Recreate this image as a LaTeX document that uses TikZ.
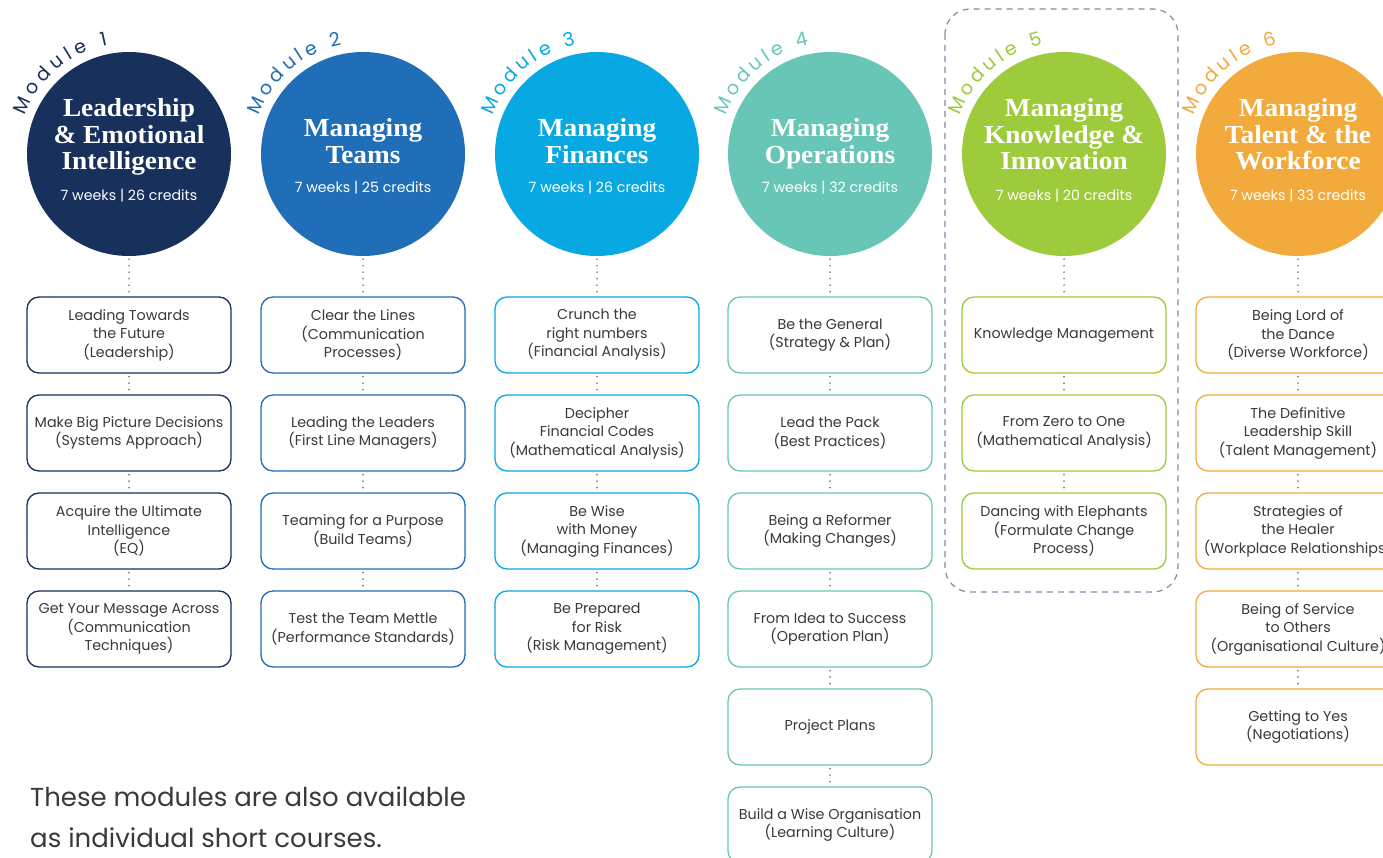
\documentclass[tikz,border=0pt]{standalone}
\usepackage{fontspec}
\setmainfont{Poppins}
\newfontfamily\titlefont[FakeStretch=1.05]{Liberation Serif}
\usetikzlibrary{decorations.text}
\definecolor{mA}{HTML}{17305C}
\definecolor{mB}{HTML}{1F6EB7}
\definecolor{mC}{HTML}{08A8E2}
\definecolor{mD}{HTML}{68C6B7}
\definecolor{mE}{HTML}{9DCB3B}
\definecolor{mF}{HTML}{F3AA3C}
\definecolor{textgray}{HTML}{3A3A3A}
\definecolor{dotgray}{HTML}{808080}
\definecolor{framegray}{HTML}{7F8CA6}
\tikzset{
  modcircle/.style={circle, minimum size=204pt, inner sep=0pt, draw=none},
  titletext/.style={text=white, font=\titlefont\bfseries\fontsize{26}{26.5}\selectfont, align=center, inner sep=0pt, text height=18pt, text depth=0pt},
  credtext/.style={text=white, font=\fontsize{14.2}{16}\selectfont, inner sep=0pt},
  topic/.style={draw, rounded corners=12pt, minimum width=204pt, minimum height=76pt, line width=1.3pt, align=center, font=\fontsize{14.3}{18.5}\selectfont, text=textgray, fill=white, inner sep=0pt},
  dotlink/.style={draw=dotgray, line width=1.9pt, line cap=round, dash pattern=on 0pt off 6.5pt, shorten <=3pt, shorten >=3pt},
  modlabel/.style 2 args={decorate, decoration={text along path, text={|\fontsize{19}{19}\selectfont|#1}, text align={fit to path}, text color=#2}}
}
\begin{document}
\begin{tikzpicture}[x=1pt,y=1pt]
\useasboundingbox (0,0) rectangle (1383,-858);
\fill[white] (0,0) rectangle (1383,-858);

% frame around module 5
\draw[framegray, line width=1.2pt, dash pattern=on 6pt off 5pt, rounded corners=25pt] (945,-9) rectangle (1178,-592);

% circles
\node[modcircle, fill=mA] (m1) at (129,-154) {};
\node[modcircle, fill=mB] (m2) at (363,-154) {};
\node[modcircle, fill=mC] (m3) at (597,-154) {};
\node[modcircle, fill=mD] (m4) at (830,-154) {};
\node[modcircle, fill=mE] (m5) at (1064,-154) {};
\node[modcircle, fill=mF] (m6) at (1298,-154) {};

% module labels
\path[modlabel={Module 1}{mA}] ([shift={(160:111)}]m1.center) arc[start angle=160, end angle=101, radius=111];
\path[modlabel={Module 2}{mB}] ([shift={(160:111)}]m2.center) arc[start angle=160, end angle=101, radius=111];
\path[modlabel={Module 3}{mC}] ([shift={(160:111)}]m3.center) arc[start angle=160, end angle=101, radius=111];
\path[modlabel={Module 4}{mD}] ([shift={(160:111)}]m4.center) arc[start angle=160, end angle=101, radius=111];
\path[modlabel={Module 5}{mE}] ([shift={(160:111)}]m5.center) arc[start angle=160, end angle=101, radius=111];
\path[modlabel={Module 6}{mF}] ([shift={(160:111)}]m6.center) arc[start angle=160, end angle=101, radius=111];

% titles
\node[titletext] (t1) at (129,-161) {Leadership\\\& Emotional\\Intelligence};
\node[credtext] (c1) at (129,-196) {7 weeks | 26 credits};
\node[titletext] (t2) at (363,-154.5) {Managing\\Teams};
\node[credtext] (c2) at (363,-188) {7 weeks | 25 credits};
\node[titletext] (t3) at (597,-154.5) {Managing\\Finances};
\node[credtext] (c3) at (597,-188) {7 weeks | 26 credits};
\node[titletext] (t4) at (830,-154.5) {Managing\\Operations};
\node[credtext] (c4) at (830,-188) {7 weeks | 32 credits};
\node[titletext] (t5) at (1064,-161) {Managing\\Knowledge \&\\Innovation};
\node[credtext] (c5) at (1064,-196) {7 weeks | 20 credits};
\node[titletext] (t6) at (1298,-161) {Managing\\Talent \& the\\Workforce};
\node[credtext] (c6) at (1298,-196) {7 weeks | 33 credits};

% column 1
\node[topic, draw=mA] (a1) at (129,-335) {Leading Towards\\the Future\\(Leadership)};
\node[topic, draw=mA] (a2) at (129,-433) {Make Big Picture Decisions\\(Systems Approach)};
\node[topic, draw=mA] (a3) at (129,-531) {Acquire the Ultimate\\Intelligence\\(EQ)};
\node[topic, draw=mA] (a4) at (129,-629) {Get Your Message Across\\(Communication\\Techniques)};
% column 2
\node[topic, draw=mB] (b1) at (363,-335) {Clear the Lines\\(Communication\\Processes)};
\node[topic, draw=mB] (b2) at (363,-433) {Leading the Leaders\\(First Line Managers)};
\node[topic, draw=mB] (b3) at (363,-531) {Teaming for a Purpose\\(Build Teams)};
\node[topic, draw=mB] (b4) at (363,-629) {Test the Team Mettle\\(Performance Standards)};
% column 3
\node[topic, draw=mC] (d1) at (597,-335) {Crunch the\\right numbers\\(Financial Analysis)};
\node[topic, draw=mC] (d2) at (597,-433) {Decipher\\Financial Codes\\(Mathematical Analysis)};
\node[topic, draw=mC] (d3) at (597,-531) {Be Wise\\with Money\\(Managing Finances)};
\node[topic, draw=mC] (d4) at (597,-629) {Be Prepared\\for Risk\\(Risk Management)};
% column 4
\node[topic, draw=mD] (e1) at (830,-335) {Be the General\\(Strategy \& Plan)};
\node[topic, draw=mD] (e2) at (830,-433) {Lead the Pack\\(Best Practices)};
\node[topic, draw=mD] (e3) at (830,-531) {Being a Reformer\\(Making Changes)};
\node[topic, draw=mD] (e4) at (830,-629) {From Idea to Success\\(Operation Plan)};
\node[topic, draw=mD] (e5) at (830,-727) {Project Plans};
\node[topic, draw=mD] (e6) at (830,-825) {Build a Wise Organisation\\(Learning Culture)};
% column 5
\node[topic, draw=mE] (f1) at (1064,-335) {Knowledge Management};
\node[topic, draw=mE] (f2) at (1064,-433) {From Zero to One\\(Mathematical Analysis)};
\node[topic, draw=mE] (f3) at (1064,-531) {Dancing with Elephants\\(Formulate Change\\Process)};
% column 6
\node[topic, draw=mF] (g1) at (1298,-335) {Being Lord of\\the Dance\\(Diverse Workforce)};
\node[topic, draw=mF] (g2) at (1298,-433) {The Definitive\\Leadership Skill\\(Talent Management)};
\node[topic, draw=mF] (g3) at (1298,-531) {Strategies of\\the Healer\\(Workplace Relationships)};
\node[topic, draw=mF] (g4) at (1298,-629) {Being of Service\\to Others\\(Organisational Culture)};
\node[topic, draw=mF] (g5) at (1298,-727) {Getting to Yes\\(Negotiations)};

% dotted links
\draw[dotlink] (m1.south) -- (a1.north);
\draw[dotlink] (a1.south) -- (a2.north);
\draw[dotlink] (a2.south) -- (a3.north);
\draw[dotlink] (a3.south) -- (a4.north);
\draw[dotlink] (m2.south) -- (b1.north);
\draw[dotlink] (b1.south) -- (b2.north);
\draw[dotlink] (b2.south) -- (b3.north);
\draw[dotlink] (b3.south) -- (b4.north);
\draw[dotlink] (m3.south) -- (d1.north);
\draw[dotlink] (d1.south) -- (d2.north);
\draw[dotlink] (d2.south) -- (d3.north);
\draw[dotlink] (d3.south) -- (d4.north);
\draw[dotlink] (m4.south) -- (e1.north);
\draw[dotlink] (e1.south) -- (e2.north);
\draw[dotlink] (e2.south) -- (e3.north);
\draw[dotlink] (e3.south) -- (e4.north);
\draw[dotlink] (e4.south) -- (e5.north);
\draw[dotlink] (e5.south) -- (e6.north);
\draw[dotlink] (m5.south) -- (f1.north);
\draw[dotlink] (f1.south) -- (f2.north);
\draw[dotlink] (f2.south) -- (f3.north);
\draw[dotlink] (m6.south) -- (g1.north);
\draw[dotlink] (g1.south) -- (g2.north);
\draw[dotlink] (g2.south) -- (g3.north);
\draw[dotlink] (g3.south) -- (g4.north);
\draw[dotlink] (g4.south) -- (g5.north);

% footer note
\node[anchor=west, align=left, inner sep=0pt, text=textgray, font=\fontsize{26}{41}\selectfont] (note) at (30,-817) {These modules are also available\\as individual short courses.};
\end{tikzpicture}
\end{document}
